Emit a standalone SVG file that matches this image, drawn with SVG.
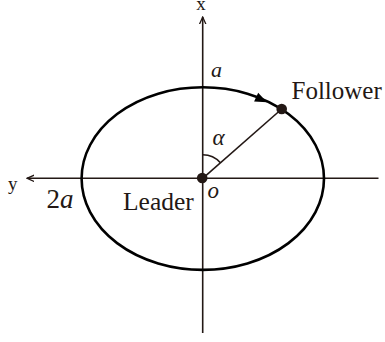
<svg xmlns="http://www.w3.org/2000/svg" width="385" height="342" viewBox="0 0 385 342">
<style>
.ax{stroke:#231815;stroke-width:1.6;fill:none}
.el{stroke:#000;stroke-width:2.6;fill:none}
.t{font-family:"Liberation Serif","Times New Roman",serif;fill:#231815}
.i{font-style:italic}
</style>
<defs>
<marker id="ah" viewBox="0 0 10 10" refX="9" refY="5" markerWidth="8" markerHeight="8" markerUnits="userSpaceOnUse" orient="auto">
<path d="M0,1 L9,5 L0,9" fill="none" stroke="#231815" stroke-width="1.6"/>
</marker>
</defs>
<g id="connectors">
<line class="ax" x1="202.7" y1="333" x2="202.7" y2="17" marker-end="url(#ah)"/>
<line class="ax" x1="378.5" y1="178.3" x2="27" y2="178.3" marker-end="url(#ah)"/>
<ellipse id="orbit" class="el" cx="202.8" cy="178.6" rx="121.2" ry="91.3"/>
<polygon points="0,0 -12,-4.8 -12,4.8" fill="#000" transform="translate(267,102.3) rotate(25.2)"/>
<line class="ax" x1="202.7" y1="178.3" x2="281.7" y2="109"/>
<path class="ax" d="M202.7,154.8 A23.5,23.5 0 0 1 220.4,162.8"/>
</g>
<g id="leader">
<circle cx="202.2" cy="178" r="5.3" fill="#231815"/>
<text class="t" x="123" y="210" font-size="25.5">Leader</text>
</g>
<g id="follower">
<circle cx="281.7" cy="109" r="5.3" fill="#231815"/>
<text class="t" x="291.5" y="99" font-size="25">Follower</text>
</g>
<g id="labels">
<text class="t" x="201" y="10" font-size="19" text-anchor="middle">x</text>
<text class="t" x="8" y="189.5" font-size="19">y</text>
<text class="t" x="46.5" y="208.3" font-size="27">2<tspan class="i">a</tspan></text>
<text class="t i" x="211" y="76.7" font-size="22">a</text>
<text class="t i" x="212.5" y="145" font-size="23">α</text>
<text class="t i" x="207.5" y="198.3" font-size="23">o</text>
</g>
</svg>
